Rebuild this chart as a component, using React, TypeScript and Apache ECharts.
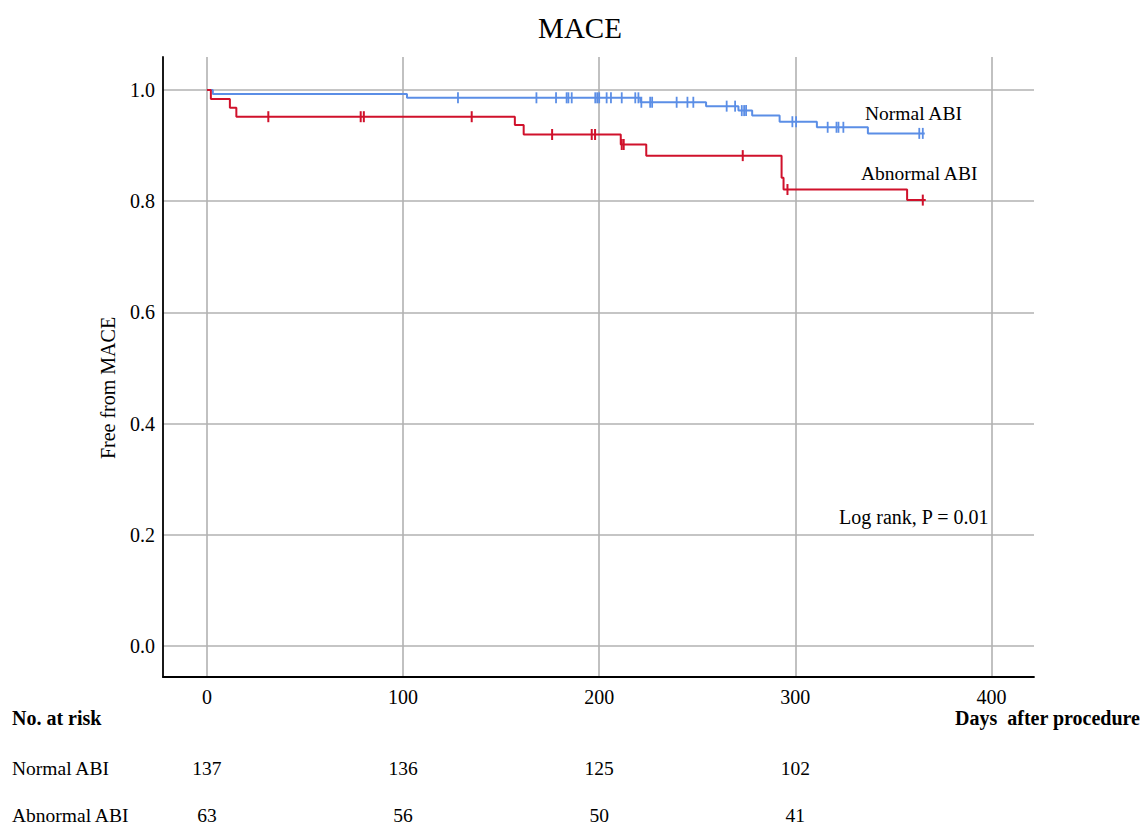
import React, { useEffect, useRef } from 'react';
import * as echarts from 'echarts';

const SERIF = '"Liberation Serif", "Times New Roman", "DejaVu Serif", serif';

// ---- Data ----
const titleText = 'MACE';
const xTicks = [0, 100, 200, 300, 400];
const yTicks = [0, 0.2, 0.4, 0.6, 0.8, 1.0];

// Kaplan–Meier step points (time of change, survival after change)
const normalTimes = [0, 3, 102, 221, 254.5, 271, 278, 292, 311, 337, 366];
const normalSurv = [1.0, 0.993, 0.986, 0.978, 0.971, 0.963, 0.954, 0.943, 0.933, 0.922, 0.922];
const abnormalTimes = [0, 2, 11.7, 15, 157, 161.5, 211, 224, 293, 294, 357, 366.5];
const abnormalSurv = [1.0, 0.984, 0.968, 0.952, 0.937, 0.920, 0.902, 0.882, 0.842, 0.821, 0.802, 0.802];

// Censoring times
const normalCensor = [128, 168, 178, 183.4, 184.3, 186, 198, 199, 200, 203.8, 206, 211.5, 218.4, 220, 221.5,
  226, 227, 239.5, 245, 248, 265, 269.3, 272.7, 273.9, 274.9, 298.5, 300.4, 316.5, 321, 322, 324.5, 363.2, 365];
const abnormalCensor = [31.3, 78.4, 80, 135, 176, 196.2, 197.9, 211.5, 212.5, 273.2, 296, 365];

// Number at risk
const riskTimes = [0, 100, 200, 300];
const riskNormal = [137, 136, 125, 102];
const riskAbnormal = [63, 56, 50, 41];

const groupNames = ['Normal ABI', 'Abnormal ABI'];
const BLUE = '#5b8ee6';
const RED = '#d0112b';

function survAt(times: number[], surv: number[], t: number) {
  let v = surv[0];
  for (let i = 0; i < times.length; i++) {
    if (times[i] <= t) v = surv[i];
  }
  return v;
}

export default function App() {
  const ref = useRef<HTMLDivElement>(null);
  useEffect(() => {
    if (!ref.current) return;
    const chart = echarts.init(ref.current, null, { renderer: 'svg' });
    const gridLine = { show: true, lineStyle: { color: '#b2b2b2', width: 1.6 } };
    const option: any = {
      animation: false,
      backgroundColor: '#ffffff',
      title: {
        text: titleText,
        left: 575,
        top: 8,
        textAlign: 'center',
        textStyle: { fontFamily: SERIF, fontSize: 29, fontWeight: 'normal', color: '#000' },
      },
      grid: { left: 163, right: 108, top: 57, bottom: 148, containLabel: false },
      xAxis: {
        type: 'value',
        min: -22.4,
        max: 421.7,
        axisLine: { show: true, onZero: false, lineStyle: { color: '#000', width: 1.8 } },
        axisTick: { show: false, customValues: xTicks },
        axisLabel: {
          customValues: xTicks,
          margin: 10,
          fontFamily: SERIF,
          fontSize: 20,
          color: '#000',
        },
        splitLine: gridLine,
      },
      yAxis: {
        type: 'value',
        min: -0.0558,
        max: 1.0594,
        axisLine: { show: true, onZero: false, lineStyle: { color: '#000', width: 1.8 } },
        axisTick: { show: false, customValues: yTicks },
        axisLabel: {
          customValues: yTicks,
          margin: 8,
          fontFamily: SERIF,
          fontSize: 20,
          color: '#000',
          formatter: (v: number) => v.toFixed(1),
        },
        splitLine: gridLine,
      },
      series: [
        {
          name: groupNames[0],
          type: 'line',
          step: 'end',
          showSymbol: false,
          data: normalTimes.map((t, i) => [t, normalSurv[i]]),
          lineStyle: { color: BLUE, width: 2 },
          itemStyle: { color: BLUE },
          z: 3,
        },
        {
          name: groupNames[1],
          type: 'line',
          step: 'end',
          showSymbol: false,
          data: abnormalTimes.map((t, i) => [t, abnormalSurv[i]]),
          lineStyle: { color: RED, width: 2 },
          itemStyle: { color: RED },
          z: 4,
        },
        {
          name: groupNames[0] + ' censored',
          type: 'scatter',
          symbol: 'rect',
          symbolSize: [1.8, 11],
          data: normalCensor.map((t) => [t, survAt(normalTimes, normalSurv, t)]),
          itemStyle: { color: BLUE, opacity: 1 },
          z: 5,
        },
        {
          name: groupNames[1] + ' censored',
          type: 'scatter',
          symbol: 'rect',
          symbolSize: [2, 11],
          data: abnormalCensor.map((t) => [t, survAt(abnormalTimes, abnormalSurv, t)]),
          itemStyle: { color: RED, opacity: 1 },
          z: 6,
        },
      ],
    };
    chart.setOption(option);

    const txt = (text: string, x: number, y: number, extra: any = {}, elExtra: any = {}) => ({
      type: 'text',
      x,
      y,
      ...elExtra,
      style: {
        text,
        fontFamily: SERIF,
        fontSize: 19,
        fill: '#000',
        align: 'left',
        verticalAlign: 'middle',
        ...extra,
      },
    });

    const graphics: any[] = [
      txt('Free from MACE', 108, 388, { fontSize: 20, align: 'center' }, { rotation: Math.PI / 2 }),
      txt(groupNames[0], 865, 113, { fontSize: 19.5 }),
      txt(groupNames[1], 861, 173, { fontSize: 19.5 }),
      txt('Log rank, P = 0.01', 839, 517, { fontSize: 20 }),
      txt('No. at risk', 12, 718, { fontSize: 20, fontWeight: 'bold' }),
      txt('Days  after procedure', 1140, 718, { fontSize: 20, fontWeight: 'bold', align: 'right' }),
      txt(groupNames[0], 12, 768, { fontSize: 19.5 }),
      txt(groupNames[1], 12, 815, { fontSize: 19.5 }),
    ];
    riskTimes.forEach((t, i) => {
      const px = chart.convertToPixel({ xAxisIndex: 0 }, t) as number;
      graphics.push(txt(String(riskNormal[i]), px, 768, { fontSize: 19.5, align: 'center' }));
      graphics.push(txt(String(riskAbnormal[i]), px, 815, { fontSize: 19.5, align: 'center' }));
    });
    chart.setOption({ graphic: graphics });

    return () => chart.dispose();
  }, []);
  return (
    <div
      ref={ref}
      style={{ position: 'fixed', left: 0, top: 0, width: 1142, height: 825, background: '#fff' }}
    />
  );
}
